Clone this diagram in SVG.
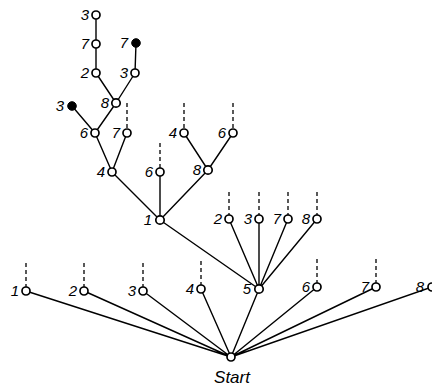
<svg xmlns="http://www.w3.org/2000/svg" width="432" height="389" viewBox="0 0 432 389">
<style>
.e{stroke:#000;stroke-width:1.4;fill:none}
.d{stroke:#000;stroke-width:1.3;stroke-dasharray:4,3;fill:none}
.n{fill:#fff;stroke:#000;stroke-width:1.7}
.f{fill:#000;stroke:#000;stroke-width:1}
text{font-family:"Liberation Sans",Arial,sans-serif;font-style:italic;font-size:15px;fill:#000;text-anchor:end}
.s{text-anchor:middle;font-size:17px}
</style>
<rect width="432" height="389" fill="#fff"/>
<g id="connectors">
<path class="e" d="M231,357L26,291M231,357L84,291M231,357L143,291M231,357L201,289M231,357L259,289M231,357L317,287M231,357L376,287M231,357L432,287"/>
<path class="e" d="M259,289L229,219M259,289L259,219M259,289L288,219M259,289L317,219M259,289L160,220"/>
<path class="e" d="M160,220L112,172M160,220L160,172M160,220L208,170M208,170L184,133M208,170L233,133M112,172L95,133M112,172L127,133M95,133L116,103M95,133L72,106M116,103L96,73M116,103L135,73M96,73L96,44M96,44L96,15M135,73L136,43"/>
<path class="d" d="M26,263V287M84,263V287M143,263V287M201,261V285M317,259V283M376,259V283M229,192V215M259,192V215M288,192V215M317,192V215M160,143V168M184,103V129M233,103V129M127,103V129"/>
</g>
<g id="start"><circle class="n" cx="231" cy="357" r="4"/><text class="s" x="232" y="383">Start</text></g>
<g id="b1"><circle class="n" cx="26" cy="291" r="4"/><text x="19" y="296">1</text></g>
<g id="b2"><circle class="n" cx="84" cy="291" r="4"/><text x="77" y="296">2</text></g>
<g id="b3"><circle class="n" cx="143" cy="291" r="4"/><text x="136" y="296">3</text></g>
<g id="b4"><circle class="n" cx="201" cy="289" r="4"/><text x="194" y="294">4</text></g>
<g id="b5"><circle class="n" cx="259" cy="289" r="4.2"/><text x="251" y="294">5</text></g>
<g id="b6"><circle class="n" cx="317" cy="287" r="4"/><text x="310" y="292">6</text></g>
<g id="b7"><circle class="n" cx="376" cy="287" r="4"/><text x="369" y="292">7</text></g>
<g id="b8"><circle class="n" cx="432" cy="287" r="4"/><text x="424" y="292">8</text></g>
<g id="c2"><circle class="n" cx="229" cy="219" r="4"/><text x="222" y="224">2</text></g>
<g id="c3"><circle class="n" cx="259" cy="219" r="4"/><text x="252" y="224">3</text></g>
<g id="c7"><circle class="n" cx="288" cy="219" r="4"/><text x="281" y="224">7</text></g>
<g id="c8"><circle class="n" cx="317" cy="219" r="4"/><text x="310" y="224">8</text></g>
<g id="n1"><circle class="n" cx="160" cy="220" r="4.2"/><text x="152" y="225">1</text></g>
<g id="d4"><circle class="n" cx="112" cy="172" r="4"/><text x="105" y="177">4</text></g>
<g id="d6"><circle class="n" cx="160" cy="172" r="4"/><text x="153" y="177">6</text></g>
<g id="d8"><circle class="n" cx="208" cy="170" r="4.2"/><text x="201" y="175">8</text></g>
<g id="e4"><circle class="n" cx="184" cy="133" r="4"/><text x="177" y="138">4</text></g>
<g id="e6"><circle class="n" cx="233" cy="133" r="4"/><text x="226" y="138">6</text></g>
<g id="f6"><circle class="n" cx="95" cy="133" r="4"/><text x="88" y="138">6</text></g>
<g id="f7"><circle class="n" cx="127" cy="133" r="4"/><text x="120" y="138">7</text></g>
<g id="g8"><circle class="n" cx="116" cy="103" r="4.2"/><text x="109" y="108">8</text></g>
<g id="g3"><circle class="f" cx="72" cy="106" r="4.3"/><text x="64" y="111">3</text></g>
<g id="h2"><circle class="n" cx="96" cy="73" r="4"/><text x="89" y="78">2</text></g>
<g id="h3"><circle class="n" cx="135" cy="73" r="4"/><text x="128" y="78">3</text></g>
<g id="i7"><circle class="n" cx="96" cy="44" r="4"/><text x="89" y="49">7</text></g>
<g id="j3"><circle class="n" cx="96" cy="15" r="4"/><text x="89" y="20">3</text></g>
<g id="k7"><circle class="f" cx="136" cy="43" r="4.3"/><text x="128" y="48">7</text></g>
</svg>
